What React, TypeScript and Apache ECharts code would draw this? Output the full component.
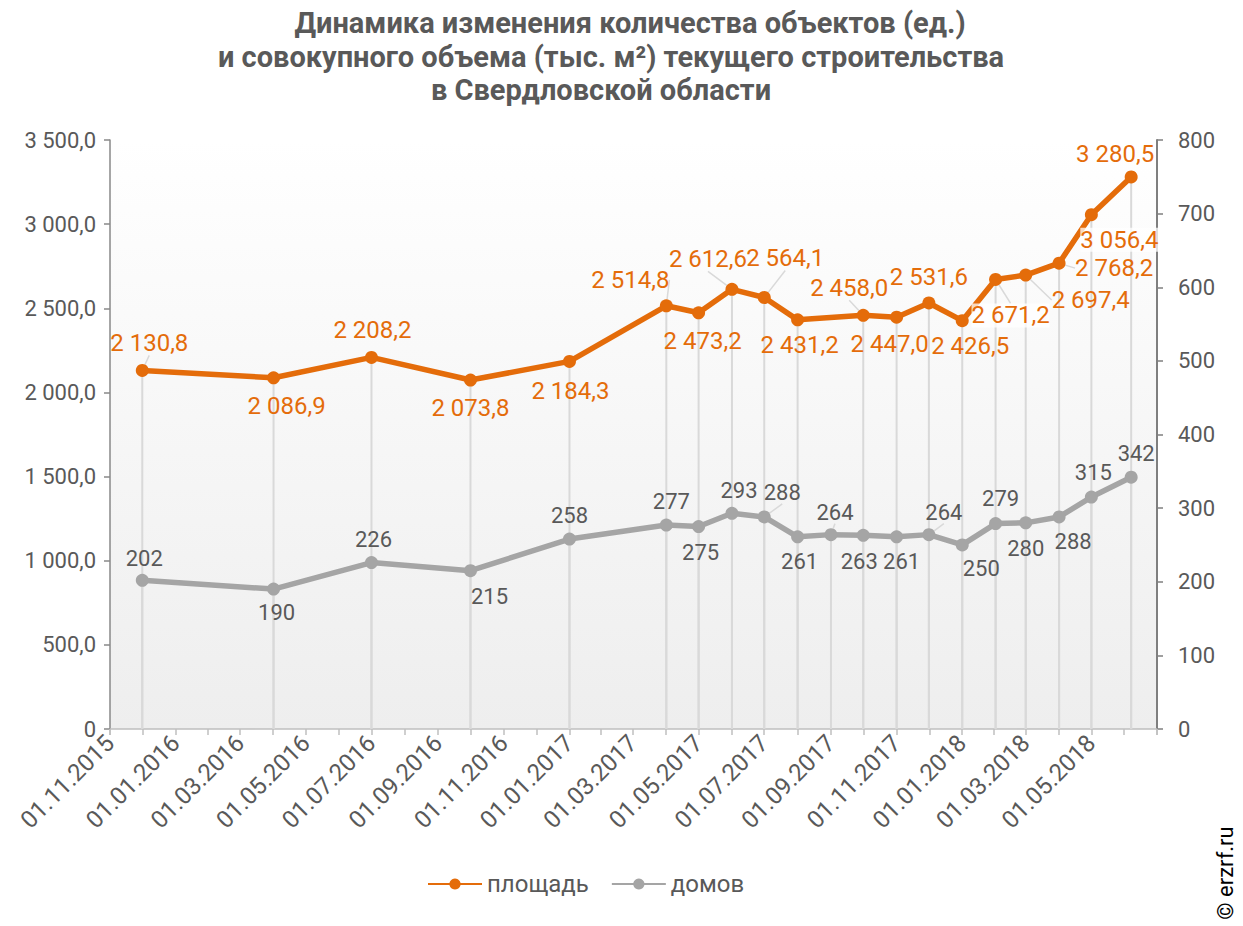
import React, { useEffect, useRef } from 'react';
import * as echarts from 'echarts';

// ---------- data ----------
const titleLines = [
  'Динамика изменения количества объектов (ед.)',
  'и совокупного объема (тыс. м²) текущего строительства',
  'в Свердловской области',
];
const dates = [
  '2015-12-01', '2016-04-01', '2016-07-01', '2016-10-01', '2017-01-01',
  '2017-04-01', '2017-05-01', '2017-06-01', '2017-07-01', '2017-08-01',
  '2017-09-01', '2017-10-01', '2017-11-01', '2017-12-01', '2018-01-01',
  '2018-02-01', '2018-03-01', '2018-04-01', '2018-05-01', '2018-06-07',
];
const area: (number | null)[] = [
  2130.8, 2086.9, 2208.2, 2073.8, 2184.3,
  2514.8, 2473.2, 2612.6, 2564.1, 2431.2,
  null, 2458.0, 2447.0, 2531.6, 2426.5,
  2671.2, 2697.4, 2768.2, 3056.4, 3280.5,
];
const houses = [
  202, 190, 226, 215, 258,
  277, 275, 293, 288, 261,
  264, 263, 261, 264, 250,
  279, 280, 288, 315, 342,
];
const seriesNames = ['площадь', 'домов'];
const xMin = '2015-11-01';
const xMax = '2018-07-01';
const leftMax = 3500;
const leftStep = 500;
const rightMax = 800;
const rightStep = 100;

// ---------- presentation (label placement, as in the reference) ----------
const areaLabelShift = [
  [7, -27], [13, 28], [1, -27], [0, 28], [1, 30],
  [-36, -26], [4, 28], [-24, -30], [21, -39], [2, 25],
  [0, 0], [-14, -27], [-7, 27], [0, -26], [8, 25],
  [15, 36], [65, 25], [55, 5], [28, 25], [-16, -23],
];
const houseLabelShift = [
  [2, -22], [3, 23], [2, -23], [19, 26], [0, -24],
  [5, -24], [2, 26], [7, -23], [18, -24], [2, 25],
  [4, -22], [-4, 26], [5, 25], [15, -22], [19, 24],
  [5, -25], [0, 26], [14, 25], [2, -25], [5, -24],
];
const areaLeader = [0, 5, 7, 8, 11, 15, 16, 17];
const houseLeader = [8, 10, 13];
const areaLabelBg = [15, 18];

const ORANGE = '#E46C0A';
const GRAY = '#A5A5A5';
const TEXT = '#595959';
const FONT = 'Roboto, "Noto Sans", sans-serif';

const fmtNum = (v: number, dec: number) => {
  const s = v.toFixed(dec);
  const parts = s.split('.');
  const g = parts[0].replace(/\B(?=(\d{3})+(?!\d))/g, ' ');
  return parts.length > 1 ? g + ',' + parts[1] : g;
};
const pad = (n: number) => (n < 10 ? '0' + n : '' + n);

export default function App() {
  const ref = useRef<HTMLDivElement>(null);
  useEffect(() => {
    if (!ref.current) return;
    const chart = echarts.init(ref.current, undefined, { renderer: 'svg' });
    const maxTs = new Date(2018, 6, 1).getTime();

    const areaData = dates.map((d, i) => {
      const item: any = { value: [d, area[i]] };
      if (areaLeader.indexOf(i) >= 0) item.labelLine = { show: true };
      if (areaLabelBg.indexOf(i) >= 0)
        item.label = { backgroundColor: 'rgba(255,255,255,0.75)' };
      return item;
    });
    const houseData = dates.map((d, i) => {
      const item: any = { value: [d, houses[i]] };
      if (houseLeader.indexOf(i) >= 0) item.labelLine = { show: true };
      return item;
    });

    const dropLine = (params: any, api: any) => {
      const x = api.value(0);
      const y = api.value(1);
      if (y == null || isNaN(y)) return null;
      const p1 = api.coord([x, y]);
      const p0 = api.coord([x, 0]);
      return {
        type: 'line',
        shape: { x1: p1[0], y1: p1[1], x2: p0[0], y2: p0[1] },
        style: { stroke: '#D9D9D9', lineWidth: 2 },
      };
    };

    chart.setOption({
      animation: false,
      textStyle: { fontFamily: FONT },
      graphic: [
        ...titleLines.map((t, i) => ({
          type: 'text',
          x: [630, 611, 601][i],
          y: [23, 57, 90][i],
          style: {
            text: t,
            fill: TEXT,
            font: 'bold 29px ' + FONT,
            textAlign: 'center',
            textVerticalAlign: 'middle',
          },
        })),
        {
          type: 'text',
          x: 1225,
          y: 873,
          rotation: Math.PI / 2,
          style: {
            text: '© erzrf.ru',
            fill: '#000',
            font: '22px ' + FONT,
            textAlign: 'center',
            textVerticalAlign: 'middle',
          },
        },
      ],
      legend: {
        data: seriesNames,
        bottom: 25,
        left: 422,
        itemWidth: 54,
        itemHeight: 14,
        itemGap: 22,
        textStyle: { fontSize: 24, color: TEXT, fontFamily: FONT },
      },
      grid: {
        left: 110,
        right: 86,
        top: 140,
        bottom: 197,
        show: true,
        borderWidth: 0,
        backgroundColor: new echarts.graphic.LinearGradient(0, 0, 0, 1, [
          { offset: 0, color: '#FFFFFF' },
          { offset: 1, color: '#EEEEEE' },
        ]),
      },
      xAxis: {
        type: 'time',
        min: xMin,
        max: xMax,
        minInterval: 65 * 86400000,
        maxInterval: 65 * 86400000,
        axisLine: { show: true, lineStyle: { color: '#BFBFBF', width: 1.5 } },
        axisTick: { show: true, length: 6, lineStyle: { color: '#BFBFBF', width: 1.5 } },
        minorTick: { show: true, splitNumber: 2, length: 6, lineStyle: { color: '#BFBFBF', width: 1.5 } },
        splitLine: { show: false },
        axisLabel: {
          rotate: 45,
          margin: 10,
          color: TEXT,
          fontSize: 24,
          fontFamily: FONT,
          hideOverlap: false,
          formatter: (v: number) => {
            if (v >= maxTs - 1000) return '';
            const d = new Date(v);
            return pad(d.getDate()) + '.' + pad(d.getMonth() + 1) + '.' + d.getFullYear();
          },
        },
      },
      yAxis: [
        {
          type: 'value',
          min: 0,
          max: leftMax,
          interval: leftStep,
          axisLine: { show: true, lineStyle: { color: '#898989', width: 1.5 } },
          axisTick: { show: true, length: 6, lineStyle: { color: '#898989', width: 1.5 } },
          splitLine: { show: false },
          axisLabel: {
            margin: 14,
            color: TEXT,
            fontSize: 22,
            fontFamily: FONT,
            formatter: (v: number) => (v === 0 ? '0' : fmtNum(v, 1)),
          },
        },
        {
          type: 'value',
          min: 0,
          max: rightMax,
          interval: rightStep,
          position: 'right',
          axisLine: { show: true, lineStyle: { color: '#7F7F7F', width: 2 } },
          axisTick: { show: true, length: 6, lineStyle: { color: '#7F7F7F', width: 1.5 } },
          splitLine: { show: false },
          axisLabel: {
            margin: 21,
            color: TEXT,
            fontSize: 22,
            fontFamily: FONT,
          },
        },
      ],
      series: [
        {
          type: 'custom',
          name: 'drop-area',
          yAxisIndex: 0,
          z: 1,
          silent: true,
          renderItem: dropLine,
          data: dates.map((d, i) => [d, area[i]]),
        },
        {
          type: 'custom',
          name: 'drop-houses',
          yAxisIndex: 1,
          z: 1,
          silent: true,
          renderItem: dropLine,
          data: dates.map((d, i) => [d, houses[i]]),
        },
        {
          type: 'line',
          name: seriesNames[0],
          yAxisIndex: 0,
          z: 4,
          connectNulls: true,
          symbol: 'circle',
          symbolSize: 13,
          color: ORANGE,
          lineStyle: { color: ORANGE, width: 5.5 },
          itemStyle: { color: ORANGE },
          label: {
            show: true,
            position: 'inside',
            color: ORANGE,
            fontSize: 24,
            fontFamily: FONT,
            formatter: (p: any) => (p.value[1] == null ? '' : fmtNum(p.value[1], 1)),
          },
          labelLine: { show: false, lineStyle: { color: '#D9D9D9', width: 1.5 } },
          labelLayout: (p: any) => ({
            dx: areaLabelShift[p.dataIndex][0],
            dy: areaLabelShift[p.dataIndex][1],
          }),
          data: areaData,
        },
        {
          type: 'line',
          name: seriesNames[1],
          yAxisIndex: 1,
          z: 3,
          symbol: 'circle',
          symbolSize: 13,
          color: GRAY,
          lineStyle: { color: GRAY, width: 5.5 },
          itemStyle: { color: GRAY },
          label: {
            show: true,
            position: 'inside',
            color: TEXT,
            fontSize: 22,
            fontFamily: FONT,
            formatter: (p: any) => String(p.value[1]),
          },
          labelLine: { show: false, lineStyle: { color: '#D9D9D9', width: 1.5 } },
          labelLayout: (p: any) => ({
            dx: houseLabelShift[p.dataIndex][0],
            dy: houseLabelShift[p.dataIndex][1],
          }),
          data: houseData,
        },
      ],
    });
    return () => chart.dispose();
  }, []);
  return (
    <div
      ref={ref}
      style={{ position: 'absolute', left: 0, top: 0, width: 1243, height: 926 }}
    />
  );
}
